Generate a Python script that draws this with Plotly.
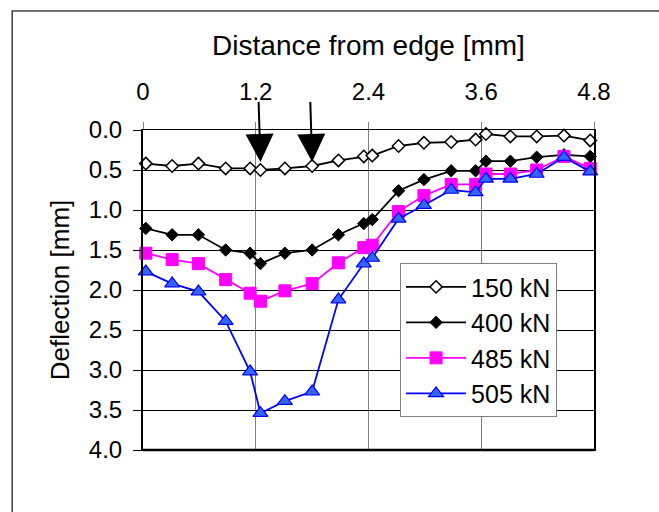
import plotly.graph_objects as go

# Measurement positions across the specimen [mm]
distance = [0.03, 0.31, 0.59, 0.88, 1.14, 1.25, 1.51, 1.80, 2.08, 2.35,
            2.44, 2.72, 2.99, 3.28, 3.54, 3.65, 3.91, 4.19, 4.48, 4.76]

# Deflection [mm] at each position for each load level
defl_150 = [0.42, 0.45, 0.42, 0.48, 0.48, 0.50, 0.48, 0.45, 0.38, 0.33,
            0.32, 0.20, 0.16, 0.15, 0.12, 0.05, 0.08, 0.08, 0.07, 0.13]
defl_400 = [1.23, 1.31, 1.31, 1.50, 1.54, 1.67, 1.54, 1.50, 1.31, 1.17,
            1.12, 0.76, 0.62, 0.51, 0.51, 0.39, 0.39, 0.34, 0.31, 0.33]
defl_485 = [1.54, 1.62, 1.67, 1.87, 2.04, 2.14, 2.01, 1.92, 1.66, 1.47,
            1.44, 1.02, 0.82, 0.68, 0.68, 0.55, 0.55, 0.50, 0.33, 0.48]
defl_505 = [1.77, 1.92, 2.02, 2.39, 3.02, 3.54, 3.39, 3.27, 2.12, 1.67,
            1.60, 1.11, 0.94, 0.75, 0.78, 0.61, 0.61, 0.55, 0.34, 0.52]

# Load application points marked with arrows
load_points = [1.25, 1.80]

x_ticks = [0, 1.2, 2.4, 3.6, 4.8]
x_ticktext = ["0", "1.2", "2.4", "3.6", "4.8"]

FONT = "Arial, 'Liberation Sans', sans-serif"

series = [
    ("150 kN", defl_150, dict(symbol="diamond", size=9.5, color="white",
                              line=dict(color="black", width=1.5)), "black"),
    ("400 kN", defl_400, dict(symbol="diamond", size=9.5, color="black",
                              line=dict(color="black", width=1)), "black"),
    ("485 kN", defl_485, dict(symbol="square", size=12, color="#ff00ff",
                              line=dict(color="#ff00ff", width=1)), "#ff00ff"),
    ("505 kN", defl_505, dict(symbol="triangle-up", size=13, color="#3366ff",
                              line=dict(color="#0000ff", width=1.2)), "#0000ff"),
]

fig = go.Figure()
for name, vals, marker, lc in series:
    fig.add_trace(go.Scatter(
        x=distance, y=vals, name=name, mode="lines+markers",
        line=dict(color=lc, width=1.8), marker=marker,
        legendgroup=name, cliponaxis=False,
    ))

# Arrows showing where the load is applied
for xp in load_points:
    fig.add_annotation(
        x=xp, y=0.40, ax=xp - 0.02, ay=-0.37,
        xref="x", yref="y", axref="x", ayref="y",
        text="", showarrow=True, arrowhead=2, arrowsize=2.8,
        arrowwidth=2, arrowcolor="black",
    )

# Outer chart frame
fig.add_shape(type="rect", xref="paper", yref="paper",
              x0=-0.29, x1=1.2, y0=-0.4, y1=1.372,
              line=dict(color="#404040", width=1.5), layer="below")
# Heavier bottom border of the plot area
fig.add_shape(type="line", xref="x domain", yref="y domain",
              x0=0, x1=1, y0=0, y1=0, line=dict(color="black", width=2.5))

fig.update_layout(
    width=659, height=512,
    margin=dict(l=142.5, r=65, t=129.5, b=61.5),
    paper_bgcolor="white", plot_bgcolor="white",
    font=dict(family=FONT, color="black", size=24),
    showlegend=True,
    legend=dict(
        x=0.57, y=0.584, xanchor="left", yanchor="top",
        bgcolor="white", bordercolor="#808080", borderwidth=1,
        font=dict(size=25, family=FONT), tracegroupgap=14,
        itemwidth=60, traceorder="normal",
    ),
    xaxis=dict(
        side="top", range=[0, 4.8], tickvals=x_ticks, ticktext=x_ticktext,
        showgrid=True, gridcolor="#808080", gridwidth=1,
        ticks="outside", ticklen=7, tickcolor="#808080",
        showline=True, linecolor="black", linewidth=1, mirror=True,
        zeroline=False, tickfont=dict(size=24), ticklabelstandoff=12,
        title=dict(text="Distance from edge [mm]", font=dict(size=28), standoff=14),
    ),
    yaxis=dict(
        range=[4.0, 0.0], dtick=0.5, tick0=0, tickformat=".1f",
        showgrid=True, gridcolor="black", gridwidth=1,
        ticks="outside", ticklen=8, tickcolor="black",
        showline=True, linecolor="black", linewidth=2, mirror=True,
        zeroline=False, tickfont=dict(size=24), ticklabelstandoff=6,
        title=dict(text="Deflection [mm]", font=dict(size=26), standoff=12),
    ),
)

fig.write_html("out.html")
